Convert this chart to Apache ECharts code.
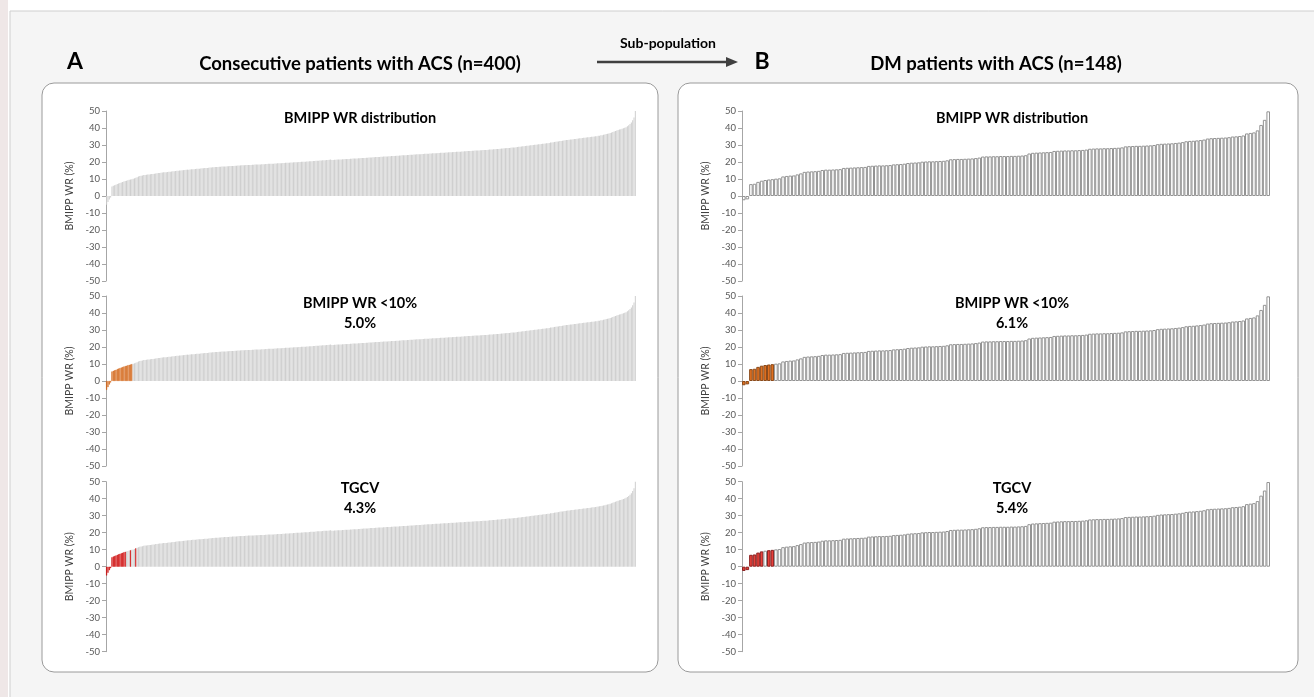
<!DOCTYPE html>
<html><head><meta charset="utf-8">
<script src="https://cdn.jsdelivr.net/npm/echarts@6/dist/echarts.min.js"></script>
<style>html,body{margin:0;padding:0;background:#fff;overflow:hidden}#c{width:1314px;height:697px}</style>
</head><body><div id="c"></div><script>
// Panel A: consecutive ACS patients (n=400), sorted BMIPP WR (%)
const aValues = [
-5.2,-3.6,-2.1,-0.9,
5.6,6.0,6.3,6.6,7.0,7.3,7.6,7.9,8.2,8.5,8.8,9.0,9.3,9.5,9.7,9.9,
10.1,10.4,10.8,11.1,11.5,11.7,11.9,12.1,12.3,12.4,
12.5,12.6,12.7,12.8,12.9,13.0,13.1,13.3,13.4,13.5,
13.6,13.7,13.8,13.9,14.0,14.0,14.1,14.2,14.3,14.4,
14.5,14.6,14.7,14.8,14.9,15.0,15.0,15.1,15.2,15.3,
15.4,15.5,15.5,15.6,15.7,15.8,15.8,15.9,16.0,16.1,
16.1,16.2,16.3,16.3,16.4,16.5,16.5,16.6,16.7,16.8,
16.9,16.9,17.0,17.0,17.1,17.2,17.2,17.3,17.3,17.4,
17.4,17.5,17.5,17.6,17.6,17.7,17.7,17.8,17.8,17.9,
18.0,18.0,18.1,18.1,18.1,18.2,18.2,18.3,18.3,18.3,
18.4,18.4,18.5,18.5,18.5,18.6,18.6,18.7,18.7,18.7,
18.8,18.8,18.9,18.9,18.9,19.0,19.0,19.1,19.1,19.2,
19.2,19.3,19.3,19.4,19.4,19.5,19.5,19.6,19.6,19.7,
19.7,19.8,19.8,19.9,19.9,20.0,20.0,20.1,20.1,20.2,
20.2,20.3,20.3,20.4,20.5,20.5,20.6,20.6,20.7,20.8,
20.8,20.9,20.9,21.0,21.1,21.1,21.2,21.2,21.3,21.4,
21.2,21.2,21.3,21.3,21.4,21.4,21.5,21.5,21.6,21.6,
21.7,21.7,21.8,21.8,21.9,21.9,22.0,22.0,22.1,22.1,
22.2,22.2,22.3,22.3,22.4,22.4,22.5,22.5,22.6,22.7,
22.7,22.8,22.8,22.9,22.9,23.0,23.0,23.1,23.1,23.2,
23.2,23.3,23.3,23.4,23.4,23.5,23.5,23.6,23.6,23.7,
23.7,23.8,23.8,23.9,23.9,24.0,24.0,24.1,24.1,24.2,
24.3,24.3,24.4,24.4,24.5,24.5,24.6,24.6,24.7,24.7,
24.8,24.8,24.9,24.9,25.0,25.0,25.1,25.1,25.2,25.2,
25.3,25.3,25.4,25.4,25.5,25.5,25.6,25.6,25.7,25.7,
25.8,25.8,25.9,25.9,26.0,26.0,26.1,26.1,26.2,26.2,
26.3,26.3,26.4,26.4,26.5,26.5,26.6,26.6,26.7,26.7,
26.8,26.8,26.9,26.9,27.0,27.0,27.1,27.1,27.2,27.3,
27.3,27.4,27.5,27.5,27.6,27.7,27.7,27.8,27.9,28.0,
28.1,28.1,28.2,28.3,28.3,28.4,28.5,28.5,28.6,28.7,
28.8,28.9,29.0,29.1,29.2,29.3,29.4,29.5,29.6,29.7,
29.8,29.9,30.0,30.1,30.2,30.3,30.4,30.5,30.6,30.7,
30.8,30.9,31.0,31.1,31.2,31.4,31.5,31.6,31.8,31.9,
32.0,32.1,32.3,32.4,32.5,32.6,32.8,32.9,33.0,33.1,
33.2,33.3,33.4,33.5,33.6,33.7,33.8,33.9,34.0,34.1,
34.2,34.3,34.4,34.5,34.6,34.7,34.8,34.9,35.0,35.1,
35.2,35.4,35.5,35.7,35.8,36.0,36.2,36.4,36.6,36.8,
37.0,37.3,37.6,37.9,38.2,38.5,38.8,39.1,39.3,39.5,
39.8,40.1,40.5,41.0,41.6,42.3,43.2,44.5,46.2,50.0
];
// Panel B: DM patients with ACS (n=148)
const bValues = [
-2.5,-2.0,
7.0,7.2,8.3,9.0,9.4,9.7,9.9,
10.2,10.4,
11.5,11.8,12.0,12.1,
12.7,13.3,
14.2,14.4,14.5,14.6,14.8,
15.3,15.5,15.5,15.6,15.7,15.8,
16.5,16.6,16.7,16.8,16.9,17.0,17.1,
17.7,17.8,17.9,18.0,18.0,18.1,18.2,
18.6,18.7,18.8,19.0,
19.4,19.6,19.7,19.8,
20.2,20.3,20.4,20.4,20.5,20.6,20.7,21.0,
21.6,21.7,21.8,21.8,21.9,22.0,22.1,22.3,22.6,
23.2,23.3,23.3,23.4,23.4,23.5,23.5,23.5,23.6,23.6,23.7,23.8,24.0,
25.0,25.4,25.5,25.6,25.7,25.8,25.9,
26.5,26.6,26.7,26.8,26.8,26.9,26.9,27.0,27.1,27.3,
27.8,27.9,28.0,28.0,28.1,28.1,28.2,28.3,28.4,28.6,
29.2,29.3,29.4,29.5,29.5,29.6,29.7,29.8,30.0,
30.5,30.7,30.8,30.9,31.0,31.2,31.4,31.7,
32.2,32.4,32.5,32.7,32.9,33.2,
33.8,34.0,34.1,34.2,34.3,34.4,34.6,
35.0,35.1,35.3,35.6,
36.8,37.1,37.4,
38.6,41.8,44.8,49.8
];
// Highlighted patients (indices into the sorted lists)
const aLowIdx  = [0,1,2,3,4,5,6,7,8,9,10,11,12,13,14,15,16,17,18,19];   // WR <10% : 5.0%
const aTgcvIdx = [0,1,2,3,4,5,6,7,8,9,10,11,12,13,14,18,22];             // TGCV : 4.3%
const bLowIdx  = [0,1,2,3,4,5,6,7,8];                                    // WR <10% : 6.1%
const bTgcvIdx = [0,1,2,3,4,5,7,8];                                      // TGCV : 5.4%
const yTickMin = -50, yTickMax = 50, yTickStep = 10;
const rowTitles = ["BMIPP WR distribution", "BMIPP WR <10%", "TGCV"];
const aPercents = ["", "5.0%", "4.3%"];
const bPercents = ["", "6.1%", "5.4%"];
const headA = "Consecutive patients with ACS (n=400)";
const headB = "DM patients with ACS (n=148)";
const arrowLabel = "Sub-population";

const FONT = 'Lato, "Open Sans", sans-serif';
const rowTops = [111, 296, 481.7];
const rowH = 170;
const panels = [
  {left: 106, width: 530, values: aValues, hl: [null, aLowIdx, aTgcvIdx], pct: aPercents, cx: 360,
   base: {color: '#cfcfcf', borderWidth: 0}, gap: '22%',
   hlStyle: [null, {color: '#d2600f', borderColor: '#d2600f', borderWidth: 0.4}, {color: '#cc0000', borderColor: '#cc0000', borderWidth: 0.4}]},
  {left: 742, width: 528, values: bValues, hl: [null, bLowIdx, bTgcvIdx], pct: bPercents, cx: 1012,
   base: {color: '#ffffff', borderColor: '#939393', borderWidth: 1}, gap: '0%',
   hlStyle: [null, {color: '#e07020', borderColor: '#8a4a1a', borderWidth: 1}, {color: '#e8403a', borderColor: '#8a2020', borderWidth: 1}]}
];

const grid = [], xAxis = [], yAxis = [], series = [], graphic = [];
let gi = 0;
panels.forEach((p) => {
  for (let r = 0; r < 3; r++) {
    grid.push({left: p.left, width: p.width, top: rowTops[r], height: rowH, containLabel: false});
    xAxis.push({type: 'category', gridIndex: gi, data: p.values.map((_, i) => i + 1), show: false, boundaryGap: true});
    yAxis.push({type: 'value', gridIndex: gi, min: yTickMin, max: yTickMax, interval: yTickStep,
      name: 'BMIPP WR (%)', nameLocation: 'middle', nameGap: 31, nameRotate: 90,
      nameTextStyle: {fontFamily: FONT, fontSize: 10.5, color: '#404040'},
      axisLine: {show: true, lineStyle: {color: '#a6a6a6', width: 1}},
      axisTick: {show: true, length: 4, inside: false, lineStyle: {color: '#a6a6a6'}},
      axisLabel: {fontFamily: FONT, fontSize: 9.5, color: '#595959', margin: 6},
      splitLine: {show: false}});
    const hlSet = p.hl[r] ? new Set(p.hl[r]) : null;
    const data = p.values.map((v, i) => {
      if (hlSet && hlSet.has(i)) return {value: v, itemStyle: p.hlStyle[r]};
      return v;
    });
    series.push({type: 'bar', xAxisIndex: gi, yAxisIndex: gi, data: data, barCategoryGap: p.gap,
      itemStyle: p.base, silent: true, animation: false});
    const lines = [rowTitles[r]];
    if (p.pct[r]) lines.push(p.pct[r]);
    graphic.push({type: 'text', x: p.cx, y: rowTops[r] - 3, z: 10,
      style: {text: lines.join('\n'), fill: '#000', font: 'bold 14.5px ' + FONT, textAlign: 'center', textVerticalAlign: 'top', lineHeight: 20}});
    gi++;
  }
});

const bgEls = [
  {type: 'rect', shape: {x: 0, y: 0, width: 8, height: 697}, style: {fill: '#efe7e7'}, z: -20},
  {type: 'rect', shape: {x: 10, y: 11, width: 1320, height: 700}, style: {fill: '#f5f5f5', stroke: '#cfcfcf', lineWidth: 1}, z: -20},
  {type: 'rect', shape: {x: 42, y: 83, width: 616, height: 589, r: 12}, style: {fill: '#ffffff', stroke: '#9a9a9a', lineWidth: 1}, z: -10},
  {type: 'rect', shape: {x: 678, y: 83, width: 620, height: 589, r: 12}, style: {fill: '#ffffff', stroke: '#9a9a9a', lineWidth: 1}, z: -10},
  {type: 'text', x: 75, y: 62, z: 10, style: {text: 'A', fill: '#000', font: 'bold 23px ' + FONT, textAlign: 'center', textVerticalAlign: 'middle'}},
  {type: 'text', x: 360, y: 64, z: 10, style: {text: headA, fill: '#000', font: 'bold 18.5px ' + FONT, textAlign: 'center', textVerticalAlign: 'middle'}},
  {type: 'text', x: 668, y: 43, z: 10, style: {text: arrowLabel, fill: '#000', font: 'bold 14px ' + FONT, textAlign: 'center', textVerticalAlign: 'middle'}},
  {type: 'line', shape: {x1: 597, y1: 62, x2: 728, y2: 62}, style: {stroke: '#404040', lineWidth: 2.5}, z: 10},
  {type: 'polygon', shape: {points: [[726, 57], [738, 62], [726, 67]]}, style: {fill: '#404040'}, z: 10},
  {type: 'text', x: 762, y: 62, z: 10, style: {text: 'B', fill: '#000', font: 'bold 23px ' + FONT, textAlign: 'center', textVerticalAlign: 'middle'}},
  {type: 'text', x: 996, y: 64, z: 10, style: {text: headB, fill: '#000', font: 'bold 18.5px ' + FONT, textAlign: 'center', textVerticalAlign: 'middle'}}
];

const chart = echarts.init(document.getElementById('c'), null, {renderer: 'canvas'});
chart.setOption({
  backgroundColor: '#ffffff',
  animation: false,
  grid, xAxis, yAxis, series,
  graphic: {elements: bgEls.concat(graphic)}
});
</script></body></html>
